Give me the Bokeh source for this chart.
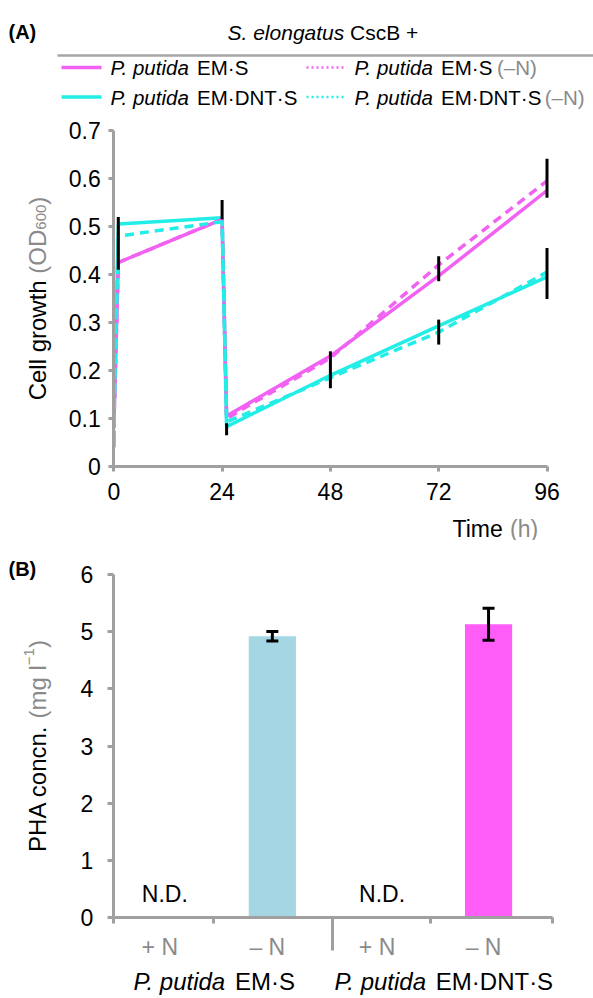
import math
from bokeh.plotting import figure
from bokeh.layouts import column
from bokeh.models import (Label, FixedTicker, ColumnDataSource, Whisker, TeeHead, Range1d,
                          LinearAxis)
from bokeh.embed import file_html
from bokeh.resources import INLINE
from bokeh.core.properties import value

# ---------------- data: panel A (cell growth, OD600) ----------------
time_h = [0, 1, 24, 25, 48, 72, 96]
od_em_s = [0.080, 0.425, 0.515, 0.105, 0.230, 0.397, 0.575]
od_em_s_minusN = [0.080, 0.425, 0.515, 0.100, 0.226, 0.420, 0.595]
od_em_dnt_s = [0.088, 0.505, 0.518, 0.083, 0.190, 0.293, 0.395]
od_em_dnt_s_minusN = [0.088, 0.480, 0.510, 0.093, 0.185, 0.280, 0.405]
err_time = [0, 1, 24, 25, 48, 72, 72, 96, 96]
err_low = [0.040, 0.410, 0.515, 0.065, 0.163, 0.386, 0.254, 0.560, 0.349]
err_high = [0.075, 0.520, 0.555, 0.090, 0.240, 0.438, 0.306, 0.641, 0.455]
x_ticks_a = [0, 24, 48, 72, 96]
y_ticks_a = [0, 0.1, 0.2, 0.3, 0.4, 0.5, 0.6, 0.7]

# ---------------- data: panel B (PHA concentration) ----------------
conditions = ["+ N", "\u2013 N", "+ N", "\u2013 N"]
strain_groups = ["EM\u00b7S", "EM\u00b7DNT\u00b7S"]
pha = [None, 4.92, None, 5.13]          # None = N.D.
pha_err = [None, 0.085, None, 0.28]
y_ticks_b = [0, 1, 2, 3, 4, 5, 6]

# ---------------- layout / styling ----------------
FONT = "Liberation Sans"
GRAY = "#A0A0A0"
TXT_GRAY = "#8A8A8A"
MAGENTA = "#F262F2"
CYAN = "#22EDE6"
BAR_COLORS = [None, "#A4D7E3", None, "#FF5CF8"]
W = 593
CAT_POS = [0.47, 1.45, 2.45, 3.42]        # category centres on the 0..4 axis
CAT_BOUNDS = [0, 0.915, 2.0, 2.89, 4]     # tick marks between categories
GROUP_SEP = 2.0                            # long separator tick between strains
GROUP_CENTERS = [0.915, 3.0]              # centres of the strain labels

# Arial / Liberation Sans advance widths (1/1000 em)
AW = {" ": 278, "(": 333, ")": 333, "+": 584, ".": 278, "\u00b7": 278, "\u2013": 556,
      "\u2212": 584, "A": 667, "B": 667, "C": 722, "D": 722, "E": 667, "H": 722,
      "M": 833, "N": 722, "O": 778, "P": 667, "S": 667, "T": 611, "a": 556, "c": 500,
      "d": 556, "e": 556, "g": 556, "h": 556, "i": 222, "l": 222, "m": 833, "n": 556,
      "o": 556, "p": 556, "r": 333, "s": 500, "t": 278, "u": 556, "w": 722}


def tw(s, size):
    return sum(AW.get(c, 556) for c in s) / 1000.0 * size


class Panel:
    """Maps page pixels to data coordinates for a figure whose frame fills its canvas."""

    def __init__(self, top, height, x0px, x1px, xd0, xd1, y0px, y1px, yd0, yd1):
        self.top, self.height = top, height
        self.x0px, self.xd0 = x0px, xd0
        self.y0px, self.yd0 = y0px, yd0
        self.sx = (x1px - x0px) / (xd1 - xd0)
        self.sy = (y0px - y1px) / (yd1 - yd0)

    def x(self, px):
        return self.xd0 + (px - self.x0px) / self.sx

    def y(self, py):
        return self.yd0 + (self.y0px - py) / self.sy

    def px(self, x):
        return self.x0px + (x - self.xd0) * self.sx

    def fig(self):
        p = figure(width=W, height=self.height,
                   x_range=Range1d(self.x(0), self.x(W)),
                   y_range=Range1d(self.y(self.top + self.height), self.y(self.top)),
                   output_backend="svg", toolbar_location=None,
                   x_axis_type=None, y_axis_type=None, min_border=0)
        p.outline_line_color = None
        p.grid.visible = False
        p.background_fill_color = "white"
        return p


def add_label(p, P, px, py, text, size, color="black", style="normal", align="left",
              baseline="middle", angle=0.0):
    p.add_layout(Label(x=P.x(px), y=P.y(py), text=text, text_font=FONT,
                       text_font_size=f"{size}px", text_color=color,
                       text_font_style=style, text_align=align,
                       text_baseline=baseline, angle=angle))


def add_pieces(p, P, x0, y, pieces):
    x = x0
    for text, size, color, style in pieces:
        if text.strip():
            add_label(p, P, x, y, text, size, color, style)
        x += tw(text, size)


def rotated_title(p, P, center_py, base_px, pieces):
    total = sum(tw(t, s) for t, s, c, sh in pieces)
    py = center_py + total / 2.0
    for t, s, c, sh in pieces:
        if t.strip():
            add_label(p, P, base_px + sh, py, t, s, c, "normal", "left", "alphabetic",
                      math.pi / 2)
        py -= tw(t, s)


def style_axis(ax, tick_out, standoff):
    ax.axis_line_color = GRAY
    ax.axis_line_width = 3
    ax.major_tick_line_color = GRAY
    ax.major_tick_line_width = 3
    ax.major_tick_out = tick_out
    ax.major_tick_in = 0
    ax.minor_tick_line_color = None
    ax.major_label_text_font = FONT
    ax.major_label_text_font_size = "23px"
    ax.major_label_text_color = "black"
    ax.major_label_standoff = standoff


# ================= header: title + legend =================
PH = Panel(top=0, height=112, x0px=0, x1px=W, xd0=0, xd1=W, y0px=0, y1px=112, yd0=0, yd1=-112)
ph = PH.fig()

add_label(ph, PH, 8, 31, "(A)", 20, style="bold")
add_pieces(ph, PH, 227, 31.5, [("S. elongatus ", 21, "black", "italic"),
                               ("CscB +", 21, "black", "normal")])
ph.segment(x0=[PH.x(57)], y0=[PH.y(55)], x1=[PH.x(W)], y1=[PH.y(55)],
           line_color="#A6A6A6", line_width=2.5)

LEG = 20.5
legend_rows = [(67, MAGENTA, strain_groups[0]), (96.5, CYAN, strain_groups[1])]
for ly, col, strain in legend_rows:
    ph.segment(x0=[PH.x(61)], y0=[PH.y(ly)], x1=[PH.x(101)], y1=[PH.y(ly)],
               line_color=col, line_width=3.5)
    add_pieces(ph, PH, 110, ly, [("P. putida ", LEG, "black", "italic"),
                                 (strain, LEG, "black", "normal")])
    ph.segment(x0=[PH.x(306)], y0=[PH.y(ly)], x1=[PH.x(343)], y1=[PH.y(ly)],
               line_color=col, line_width=2.5, line_dash="2 3")
    add_pieces(ph, PH, 354, ly, [("P. putida ", LEG, "black", "italic"),
                                 (strain + " ", LEG, "black", "normal"),
                                 ("(\u2013N)", LEG, TXT_GRAY, "normal")])

# ================= panel A =================
PA = Panel(top=112, height=428, x0px=113.3, x1px=546.5, xd0=0, xd1=96,
           y0px=466, y1px=130, yd0=0, yd1=0.7)
pa = PA.fig()
xa = LinearAxis(fixed_location=0, bounds=(0, 96), ticker=FixedTicker(ticks=x_ticks_a))
ya = LinearAxis(fixed_location=0, bounds=(0, 0.7), ticker=FixedTicker(ticks=y_ticks_a))
ya.major_label_overrides = {0: "0"}
style_axis(xa, 5, 11)
style_axis(ya, 5, 8)
pa.add_layout(xa, "below")
pa.add_layout(ya, "left")

pa.line(time_h, od_em_s, line_color=MAGENTA, line_width=3.5)
pa.line(time_h, od_em_dnt_s, line_color=CYAN, line_width=3.5)
pa.line(time_h, od_em_s_minusN, line_color=MAGENTA, line_width=3.5, line_dash="9 6")
pa.line(time_h, od_em_dnt_s_minusN, line_color=CYAN, line_width=3.5, line_dash="9 6")
pa.segment(x0=err_time, y0=err_low, x1=err_time, y1=err_high, line_color="black", line_width=3)

add_pieces(pa, PA, 452, 528, [("Time ", 23, "black", "normal"), ("(h)", 23, TXT_GRAY, "normal")])
rotated_title(pa, PA, 298, 36.5,
              [("Cell growth ", 24, "black", 0), ("(OD", 24, TXT_GRAY, 0),
               ("600", 15, TXT_GRAY, 4), (")", 24, TXT_GRAY, 0)])

# ================= panel B =================
n_cat = len(conditions)
PB = Panel(top=540, height=458, x0px=112.7, x1px=551.7, xd0=0, xd1=n_cat,
           y0px=917, y1px=574, yd0=0, yd1=6)
pb = PB.fig()
xb = LinearAxis(fixed_location=0, bounds=(0, n_cat),
                ticker=FixedTicker(ticks=[GROUP_SEP],
                                   minor_ticks=[b for b in CAT_BOUNDS if b != GROUP_SEP]))
yb = LinearAxis(fixed_location=0, bounds=(0, 6), ticker=FixedTicker(ticks=y_ticks_b))
style_axis(xb, 33, 0)
style_axis(yb, 6, 14)
xb.major_label_text_color = None
xb.minor_tick_line_color = GRAY
xb.minor_tick_line_width = 3
xb.minor_tick_out = 6
xb.minor_tick_in = 0
pb.add_layout(xb, "below")
pb.add_layout(yb, "left")

bar_idx = [i for i in range(n_cat) if pha[i] is not None]
bar_src = ColumnDataSource(dict(
    x=[CAT_POS[i] for i in bar_idx],
    top=[pha[i] for i in bar_idx],
    color=[BAR_COLORS[i] for i in bar_idx],
    lower=[pha[i] - pha_err[i] for i in bar_idx],
    upper=[pha[i] + pha_err[i] for i in bar_idx],
))
pb.vbar(x="x", top="top", width=0.43, fill_color="color", line_color=None, source=bar_src)
pb.add_layout(Whisker(source=bar_src, base="x", lower="lower", upper="upper",
                      line_color="black", line_width=3, level="overlay",
                      upper_head=TeeHead(size=12, line_color="black", line_width=3),
                      lower_head=TeeHead(size=12, line_color="black", line_width=3)))

nd_idx = [i for i in range(n_cat) if pha[i] is None]
pb.text(x=[CAT_POS[i] for i in nd_idx], y=[PB.y(893)] * len(nd_idx),
        text=["N.D."] * len(nd_idx), text_font=value(FONT), text_font_size="23px",
        text_align="center", text_baseline="middle", text_color="black")

for i, c in enumerate(conditions):
    add_label(pb, PB, PB.px(CAT_POS[i]) - 5, 946, c, 23, TXT_GRAY, "normal", "center")

for g, strain in enumerate(strain_groups):
    center_px = PB.px(GROUP_CENTERS[g])
    total = tw("P. putida " + strain, 24)
    add_pieces(pb, PB, center_px - total / 2.0, 981,
               [("P. putida ", 24, "black", "italic"), (strain, 24, "black", "normal")])

add_label(pb, PB, 8, 568, "(B)", 20, style="bold")
rotated_title(pb, PB, 745.5, 36.5,
              [("PHA concn. ", 24, "black", 0), ("(mg l", 24, TXT_GRAY, 0),
               ("\u22121", 15, TXT_GRAY, -8), (")", 24, TXT_GRAY, 0)])

layout = column(ph, pa, pb)
open("out.html", "w").write(file_html(layout, INLINE))
